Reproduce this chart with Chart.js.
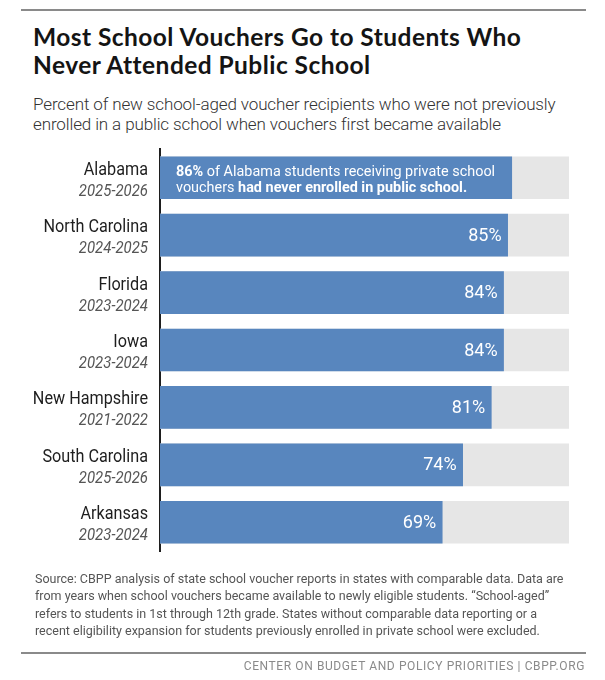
<!DOCTYPE html>
<html>
<head>
<meta charset="utf-8">
<script src="https://cdn.jsdelivr.net/npm/chart.js@4"></script>
<style>
  html, body { margin: 0; padding: 0; background: #fff; }
  #page { position: relative; width: 605px; height: 680px; overflow: hidden; }
  #chartBox { position: absolute; left: 0; top: 0; width: 605px; height: 680px; }
  .rule { position: absolute; left: 21px; width: 565px; height: 2px; background: #8a8a8a; }
  #title { position: absolute; left: 33px; top: 23px; font: bold 24.5px/27.5px Lato, sans-serif; letter-spacing: 0.45px; color: #141414; white-space: nowrap; }
  #subtitle { position: absolute; left: 33px; top: 94px; font: 300 17px/20px Roboto, sans-serif; letter-spacing: -0.12px; color: #333; white-space: nowrap; }
  #source { position: absolute; left: 35px; top: 570px; font: 12.5px/17.4px Roboto, sans-serif; color: #555; white-space: nowrap; }
  #footer { position: absolute; right: 20px; top: 659px; font: 12px Roboto, sans-serif; color: #8a8a8a; letter-spacing: 0.6px; white-space: nowrap; }
</style>
</head>
<body>
<div id="page">
  <div class="rule" style="top:9px"></div>
  <div id="title">Most School Vouchers Go to Students Who<br>Never Attended Public School</div>
  <div id="subtitle">Percent of new school-aged voucher recipients who were not previously<br>enrolled in a public school when vouchers first became available</div>
  <div id="chartBox"><canvas id="voucherChart"></canvas></div>
  <div id="source">Source: CBPP analysis of state school voucher reports in states with comparable data. Data are<br>from years when school vouchers became available to newly eligible students. “School-aged”<br>refers to students in 1st through 12th grade. States without comparable data reporting or a<br>recent eligibility expansion for students previously enrolled in private school were excluded.</div>
  <div class="rule" style="top:652px"></div>
  <div id="footer">CENTER ON BUDGET AND POLICY PRIORITIES | CBPP.ORG</div>
</div>
<script>
var states = ['Alabama', 'North Carolina', 'Florida', 'Iowa', 'New Hampshire', 'South Carolina', 'Arkansas'];
var years = ['2025-2026', '2024-2025', '2023-2024', '2023-2024', '2021-2022', '2025-2026', '2023-2024'];
var shares = [86, 85, 84, 84, 81, 74, 69];
var fullBar = [100, 100, 100, 100, 100, 100, 100];
// Alabama bar carries a sentence instead of a plain number: [text, bold?]
var alabamaNote = [
    [['86%', true], [' of Alabama students receiving private school', false]],
    [['vouchers ', false], ['had never enrolled in public school.', true]]
];

var ctx = document.getElementById('voucherChart').getContext('2d');

// squeeze text a bit so it looks like the narrow font of the original
function narrowText(c, text, x, y, sx) {
    c.save();
    c.translate(x, y);
    c.scale(sx, 1);
    c.fillText(text, 0, 0);
    c.restore();
    return c.measureText(text).width * sx;
}

// draws state names, years and the labels on the bars
var barLabels = {
    id: 'barLabels',
    afterDatasetsDraw: function(chart) {
        var c = chart.ctx;
        var yScale = chart.scales.y;
        var meta = chart.getDatasetMeta(0);
        c.save();
        for (var i = 0; i < states.length; i++) {
            var y = yScale.getPixelForValue(i);
            c.textAlign = 'right';
            c.textBaseline = 'alphabetic';
            c.fillStyle = '#1e1e1e';
            c.font = '18px Roboto';
            narrowText(c, states[i], 148, y - 3, 0.9);
            c.fillStyle = '#555';
            c.font = 'italic 17px Roboto';
            narrowText(c, years[i], 148, y + 18, 0.88);

            var barEnd = meta.data[i].x;
            c.fillStyle = '#fff';
            if (i === 0) {
                c.textAlign = 'left';
                for (var l = 0; l < alabamaNote.length; l++) {
                    var x = chart.chartArea.left + 16;
                    for (var p = 0; p < alabamaNote[l].length; p++) {
                        var part = alabamaNote[l][p];
                        c.font = (part[1] ? 'bold ' : '') + '15.5px Roboto';
                        x += narrowText(c, part[0], x, y - 2 + l * 16, 0.93);
                    }
                }
            } else {
                c.textAlign = 'right';
                c.textBaseline = 'middle';
                c.font = '18px Roboto';
                c.fillText(shares[i] + '%', barEnd - 6, y + 1);
            }
        }
        c.restore();
    }
};

var voucherChart = new Chart(ctx, {
    type: 'bar',
    data: {
        labels: states,
        datasets: [{
            label: 'Share never enrolled in public school',
            data: shares,
            backgroundColor: '#5886be',
            barThickness: 42,
            grouped: false,
            order: 0
        },
            {
                label: 'Total',
                data: fullBar,
                backgroundColor: '#e6e6e6',
                barThickness: 42,
                grouped: false,
                order: 1
            }
        ]
    },
    options: {
        indexAxis: 'y',
        responsive: true,
        maintainAspectRatio: false,
        animation: false,
        layout: {
            padding: { top: 149, bottom: 129, left: 0, right: 36 }
        },
        scales: {
            x: {
                display: false,
                min: 0,
                max: 100
            },
            y: {
                grid: { display: false },
                border: { display: true, color: '#1e1e1e', width: 2 },
                ticks: { display: false },
                afterFit: function(scale) {
                    scale.width = 160;
                }
            }
        },
        plugins: {
            legend: { display: false },
            tooltip: { enabled: false }
        }
    },
    plugins: [barLabels]
});
</script>
</body>
</html>
